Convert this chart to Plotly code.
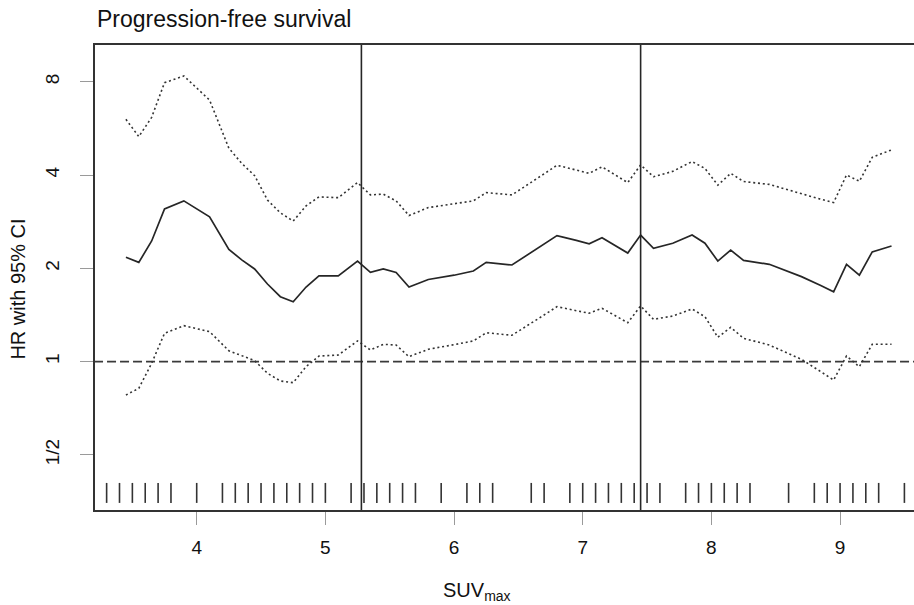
import plotly.graph_objects as go

# ---- data ----
suv_grid = [3.45, 3.55, 3.65, 3.75, 3.9, 4.1, 4.25, 4.35, 4.45, 4.55, 4.65, 4.75, 4.85, 4.95,
            5.1, 5.25, 5.35, 5.45, 5.55, 5.65, 5.8, 6.0, 6.15, 6.25, 6.45, 6.65, 6.8, 6.95,
            7.05, 7.15, 7.25, 7.35, 7.45, 7.55, 7.7, 7.85, 7.95, 8.05, 8.15, 8.25, 8.45, 8.7,
            8.85, 8.95, 9.05, 9.15, 9.25, 9.4]
hr = [2.17, 2.09, 2.45, 3.11, 3.30, 2.93, 2.30, 2.13, 1.99, 1.78, 1.62, 1.56, 1.74, 1.89,
      1.89, 2.11, 1.94, 1.99, 1.94, 1.74, 1.84, 1.90, 1.96, 2.09, 2.05, 2.32, 2.55, 2.46,
      2.40, 2.51, 2.37, 2.24, 2.56, 2.32, 2.41, 2.56, 2.41, 2.11, 2.29, 2.12, 2.06, 1.88,
      1.76, 1.68, 2.06, 1.90, 2.26, 2.36]
ci_upper = [6.05, 5.32, 6.14, 7.94, 8.35, 6.98, 4.88, 4.36, 3.98, 3.32, 3.02, 2.84, 3.18, 3.40,
            3.38, 3.78, 3.45, 3.47, 3.30, 2.96, 3.14, 3.23, 3.30, 3.51, 3.45, 3.91, 4.30, 4.15,
            4.05, 4.25, 4.00, 3.78, 4.31, 3.95, 4.11, 4.42, 4.20, 3.71, 4.05, 3.81, 3.73, 3.47,
            3.34, 3.26, 4.00, 3.82, 4.56, 4.82]
ci_lower = [0.780, 0.820, 0.988, 1.234, 1.306, 1.249, 1.084, 1.042, 1.007, 0.917, 0.866, 0.855,
            0.963, 1.042, 1.050, 1.166, 1.090, 1.137, 1.131, 1.037, 1.096, 1.134, 1.166, 1.239,
            1.216, 1.372, 1.504, 1.460, 1.432, 1.486, 1.408, 1.335, 1.512, 1.369, 1.403, 1.478,
            1.396, 1.198, 1.290, 1.189, 1.131, 1.017, 0.928, 0.872, 1.042, 0.963, 1.137, 1.137]
rug_values = [3.3, 3.4, 3.5, 3.6, 3.7, 3.8, 4.0, 4.2, 4.3, 4.4, 4.5, 4.6, 4.7, 4.8, 4.9, 5.0,
              5.2, 5.3, 5.4, 5.5, 5.6, 5.7, 5.9, 6.1, 6.2, 6.3, 6.6, 6.7, 6.9, 7.0, 7.1, 7.2,
              7.3, 7.4, 7.5, 7.6, 7.8, 7.9, 8.0, 8.1, 8.2, 8.3, 8.6, 8.8, 8.9, 9.0, 9.1, 9.2,
              9.3, 9.5]
cutpoints = [5.28, 7.45]
reference_hr = 1
x_ticks = [4, 5, 6, 7, 8, 9]
y_ticks = [0.5, 1, 2, 4, 8]
y_tick_labels = ["1/2", "1", "2", "4", "8"]

FONT = "Liberation Sans, Arial, Helvetica, sans-serif"
DARK = "#262626"

fig = go.Figure()

# rug marks
rug_lo, rug_hi = 0.350, 0.406
rx, ry = [], []
for v in rug_values:
    rx += [v, v, None]
    ry += [rug_lo, rug_hi, None]
fig.add_trace(go.Scatter(x=rx, y=ry, mode="lines",
                         line=dict(color="#333333", width=1.6), hoverinfo="skip"))

# reference line HR = 1
fig.add_trace(go.Scatter(x=[3.0, 10.0], y=[reference_hr, reference_hr], mode="lines",
                         line=dict(color="#3a3a3a", width=1.6, dash="9px,4px"), hoverinfo="skip"))

# confidence bounds
fig.add_trace(go.Scatter(x=suv_grid, y=ci_upper, mode="lines",
                         line=dict(color="#333333", width=1.6, dash="2px,2.8px")))
fig.add_trace(go.Scatter(x=suv_grid, y=ci_lower, mode="lines",
                         line=dict(color="#333333", width=1.6, dash="2px,2.8px")))
# HR estimate
fig.add_trace(go.Scatter(x=suv_grid, y=hr, mode="lines",
                         line=dict(color=DARK, width=1.7)))

for c in cutpoints:
    fig.add_shape(type="line", xref="x", yref="paper", x0=c, x1=c, y0=0, y1=1,
                  line=dict(color=DARK, width=1.6))

fig.update_layout(
    width=914, height=605,
    margin=dict(l=95, r=0, t=45, b=95),
    paper_bgcolor="white", plot_bgcolor="white",
    showlegend=False,
    font=dict(family=FONT, color="#111111", size=19),
)
fig.update_xaxes(
    range=[3.2096, 9.5746], tickvals=x_ticks, ticktext=[str(t) for t in x_ticks],
    ticks="outside", ticklen=13, tickwidth=1, tickcolor="#9a9a9a",
    showline=True, linecolor="#333333", linewidth=1.6, mirror=True,
    showgrid=False, zeroline=False, tickfont=dict(size=19, family=FONT),
    ticklabelstandoff=6,
)
fig.update_yaxes(
    type="log", range=[-0.4788, 1.0215], tickvals=y_ticks, ticktext=y_tick_labels,
    ticks="outside", ticklen=13, tickwidth=1, tickcolor="#9a9a9a", tickangle=-90,
    showline=True, linecolor="#333333", linewidth=1.6, mirror=False,
    showgrid=False, zeroline=False, tickfont=dict(size=19, family=FONT),
    ticklabelstandoff=14,
)

fig.add_annotation(text="Progression-free survival", xref="paper", yref="paper",
                   x=0, y=1.056, xanchor="left", yanchor="middle", showarrow=False,
                   font=dict(size=23, family=FONT, color="#111111"))
fig.add_annotation(text="HR with 95% CI", xref="paper", yref="paper",
                   x=(18 - 95) / 819, y=0.474, xanchor="center", yanchor="middle",
                   textangle=-90, showarrow=False,
                   font=dict(size=20, family=FONT, color="#111111"))
fig.add_annotation(text="SUV<sub>max</sub>", xref="paper", yref="paper",
                   x=0.466, y=-0.175, xanchor="center", yanchor="middle", showarrow=False,
                   font=dict(size=20, family=FONT, color="#111111"))

fig.write_html("out.html", config={"displayModeBar": False},
               post_script="document.body.style.margin='0px';")
